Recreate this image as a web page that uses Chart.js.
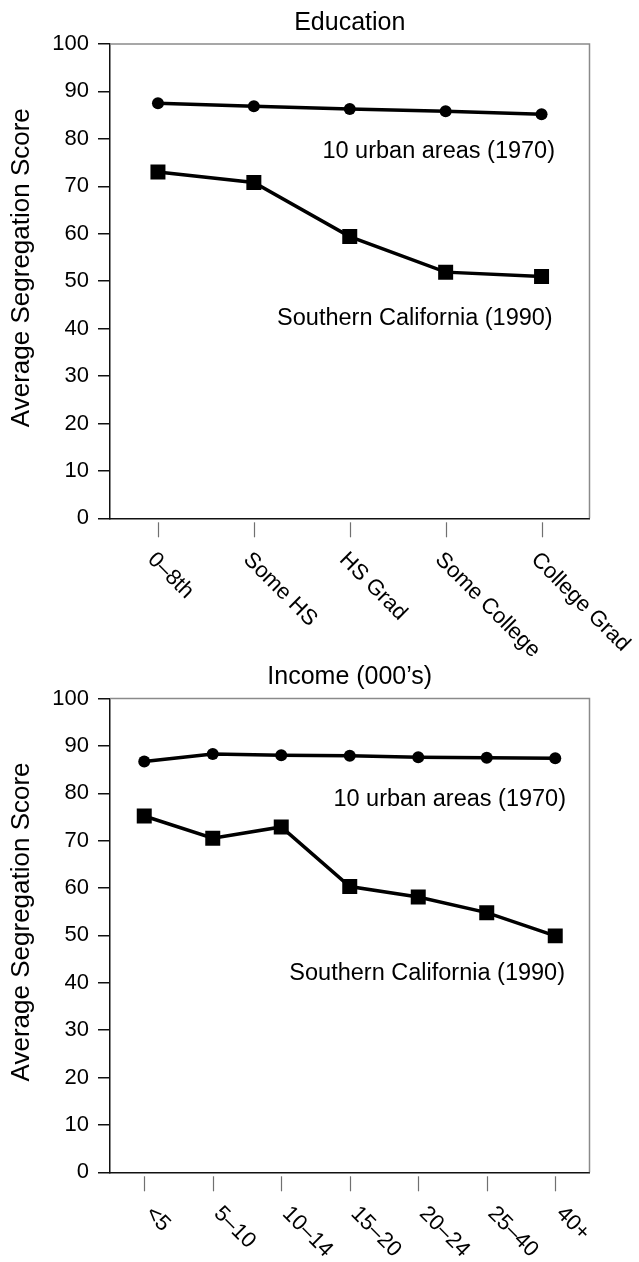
<!DOCTYPE html>
<html>
<head>
<meta charset="utf-8">
<script src="https://cdn.jsdelivr.net/npm/chart.js@4/dist/chart.umd.min.js"></script>
<style>
  html, body { margin: 0; padding: 0; background: #fff; }
  body { width: 639px; height: 1262px; position: relative; overflow: hidden; }
  canvas { position: absolute; left: 0; }
  #eduChart { top: 0; }
  #incChart { top: 640px; }
</style>
</head>
<body>
<canvas id="eduChart" width="639" height="680"></canvas>
<canvas id="incChart" width="639" height="622"></canvas>
<script>
// Segregation scores by education level
const educationLevels = ['0–8th', 'Some HS', 'HS Grad', 'Some College', 'College Grad'];
const eduUrban1970 = [87.5, 86.9, 86.3, 85.8, 85.2];
const eduSoCal1990 = [73.0, 70.8, 59.4, 51.9, 51.0];

// Segregation scores by income bracket (thousands)
const incomeBrackets = ['<5', '5–10', '10–14', '15–20', '20–24', '25–40', '40+'];
const incUrban1970 = [86.7, 88.3, 88.0, 87.9, 87.6, 87.5, 87.4];
const incSoCal1990 = [75.2, 70.5, 72.9, 60.3, 58.1, 54.8, 49.9];

// Shared labels
const seriesNames = ['10 urban areas (1970)', 'Southern California (1990)'];
const yAxisTitle = 'Average Segregation Score';
const scoreMin = 0;
const scoreMax = 100;
const scoreStep = 10;

const FONT = "'Liberation Sans', Arial, Helvetica, sans-serif";

// Draws the grey top/right frame, the detached category tick marks,
// the slanted category labels, the series captions and the y-axis title.
const decorations = {
  id: 'decorations',
  afterDraw(chart, args, opts) {
    const { ctx, chartArea: a } = chart;
    const xs = chart.scales.x, ys = chart.scales.y;
    ctx.save();

    // frame (top and right edges)
    ctx.strokeStyle = '#8a8a8a';
    ctx.lineWidth = 1.5;
    ctx.beginPath();
    ctx.moveTo(a.left, a.top);
    ctx.lineTo(a.right, a.top);
    ctx.lineTo(a.right, a.bottom);
    ctx.stroke();

    // category tick marks, set slightly below the axis
    ctx.strokeStyle = '#707070';
    ctx.lineWidth = 1.2;
    const n = xs.getLabels().length;
    for (let i = 0; i < n; i++) {
      const x = Math.round(xs.getPixelForValue(i)) + 0.5;
      ctx.beginPath();
      ctx.moveTo(x, a.bottom + 4);
      ctx.lineTo(x, a.bottom + 19);
      ctx.stroke();
    }

    // category labels, running down to the right
    ctx.fillStyle = '#000';
    ctx.font = '22px ' + FONT;
    ctx.textAlign = 'left';
    ctx.textBaseline = 'middle';
    xs.getLabels().forEach((lab, i) => {
      const x = xs.getPixelForValue(i) + opts.labelDx;
      const y = a.bottom + 38;
      ctx.save();
      ctx.translate(x, y);
      ctx.rotate(Math.PI / 4);
      ctx.fillText(lab, 0, 0);
      ctx.restore();
    });

    // series captions
    ctx.font = '23.5px ' + FONT;
    ctx.textAlign = 'right';
    opts.captions.forEach(c => {
      ctx.fillText(c.text, a.right - c.inset, ys.getPixelForValue(c.value));
    });

    // y-axis title
    ctx.font = '26px ' + FONT;
    ctx.textAlign = 'center';
    ctx.save();
    ctx.translate(22, (a.top + a.bottom) / 2 - 13.5);
    ctx.rotate(-Math.PI / 2);
    ctx.fillText(yAxisTitle, 0, 0);
    ctx.restore();

    ctx.restore();
  }
};

function makeChart(id, title, labels, urban, socal, layoutCfg) {
  return new Chart(document.getElementById(id), {
    type: 'line',
    data: {
      labels: labels,
      datasets: [
        {
          label: seriesNames[0],
          data: urban,
          borderColor: '#000',
          borderWidth: 3.5,
          pointStyle: 'circle',
          pointRadius: 6,
          pointBackgroundColor: '#000',
          pointBorderColor: '#000',
          pointBorderWidth: 0,
          tension: 0
        },
        {
          label: seriesNames[1],
          data: socal,
          borderColor: '#000',
          borderWidth: 3.5,
          pointStyle: 'rect',
          pointRadius: 10.6,
          pointBackgroundColor: '#000',
          pointBorderColor: '#000',
          pointBorderWidth: 0,
          tension: 0
        }
      ]
    },
    options: {
      responsive: false,
      animation: false,
      events: [],
      layout: { padding: { left: 0, right: 49.5, top: 0, bottom: 0 } },
      plugins: {
        legend: { display: false },
        tooltip: { enabled: false },
        title: {
          display: true,
          text: title,
          fullSize: false,
          color: '#000',
          font: { family: FONT, size: 25, weight: 'normal', lineHeight: 1.2 },
          padding: { top: layoutCfg.titleTop, bottom: layoutCfg.titleBottom }
        },
        decorations: {
          labelDx: layoutCfg.labelDx,
          captions: layoutCfg.captions
        }
      },
      scales: {
        x: {
          type: 'category',
          offset: true,
          grid: { display: false, drawTicks: false },
          ticks: { display: false },
          border: { display: true, color: '#111', width: 1.5 },
          afterFit(scale) { scale.height = layoutCfg.xHeight; }
        },
        y: {
          min: scoreMin,
          max: scoreMax,
          ticks: {
            stepSize: scoreStep,
            color: '#000',
            padding: 9,
            font: { family: FONT, size: 22 }
          },
          grid: {
            drawOnChartArea: false,
            drawTicks: true,
            tickLength: 12,
            color: '#111',
            lineWidth: 1.5
          },
          border: { display: true, color: '#111', width: 1.5 },
          afterFit(scale) { scale.width = 110; }
        }
      }
    },
    plugins: [decorations]
  });
}

makeChart('eduChart', 'Education', educationLevels, eduUrban1970, eduSoCal1990, {
  titleTop: 8, titleBottom: 6, xHeight: 161.7, labelDx: -7,
  captions: [
    { text: seriesNames[0], value: 77.4, inset: 34.5 },
    { text: seriesNames[1], value: 42.2, inset: 36.8 }
  ]
});

makeChart('incChart', 'Income (000’s)', incomeBrackets, incUrban1970, incSoCal1990, {
  titleTop: 22, titleBottom: 6.5, xHeight: 89.7, labelDx: 4.5,
  captions: [
    { text: seriesNames[0], value: 78.6, inset: 23.5 },
    { text: seriesNames[1], value: 42.0, inset: 24.5 }
  ]
});
</script>
</body>
</html>
